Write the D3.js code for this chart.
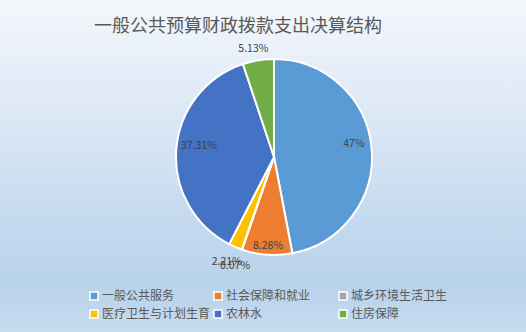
<!DOCTYPE html>
<meta charset="utf-8">
<style>
  body { margin: 0; }
  svg { display: block; font-family: "Noto Sans CJK SC", "Noto Sans", sans-serif; }
</style>
<body>
<svg id="chart"></svg>
<script src="https://d3js.org/d3.v7.min.js"></script>
<script>
  // data
  var categories = ["一般公共服务", "社会保障和就业", "城乡环境生活卫生", "医疗卫生与计划生育", "农林水", "住房保障"];
  var values = [47, 8.28, 0.07, 2.21, 37.31, 5.13];
  var labels = ["47%", "8.28%", "0.07%", "2.21%", "37.31%", "5.13%"];
  var colors = ["#5b9bd5", "#ed7d31", "#a5a5a5", "#ffc000", "#4472c4", "#70ad47"];

  var width = 526, height = 332;
  var cx = 274, cy = 157, radius = 98;

  var svg = d3.select("#chart").attr("width", width).attr("height", height);

  var grad = svg.append("defs").append("linearGradient")
      .attr("id", "bg").attr("x1", 0).attr("y1", 0).attr("x2", 0).attr("y2", 1);
  grad.append("stop").attr("offset", "0%").attr("stop-color", "#f4f7fc");
  grad.append("stop").attr("offset", "85%").attr("stop-color", "#b8d2eb");
  grad.append("stop").attr("offset", "100%").attr("stop-color", "#c6dbef");

  svg.append("rect").attr("width", width).attr("height", height).attr("fill", "url(#bg)");

  svg.append("text")
      .attr("x", 238).attr("y", 32)
      .attr("text-anchor", "middle")
      .attr("font-size", 18)
      .attr("fill", "#595959")
      .text("一般公共预算财政拨款支出决算结构");

  var pie = d3.pie().sort(null).value(function (d) { return d; });
  var arcs = pie(values);
  var arc = d3.arc().innerRadius(0).outerRadius(radius);

  var g = svg.append("g").attr("transform", "translate(" + cx + "," + cy + ")");

  g.selectAll("path")
      .data(arcs)
      .enter().append("path")
      .attr("d", arc)
      .attr("fill", function (d, i) { return colors[i]; })
      .attr("stroke", "#fff")
      .attr("stroke-width", 2);

  // label positions: inside for big slices, outside for the small ones
  var inner = d3.arc().innerRadius(radius * 0.85).outerRadius(radius * 0.85);
  var outer = d3.arc().innerRadius(radius * 1.12).outerRadius(radius * 1.12);
  var labelOffsets = [[-3, -6], [0, 5], [-3, 5], [-4, 3], [8, -5], [-3, 0]];

  g.selectAll("text.lbl")
      .data(arcs)
      .enter().append("text")
      .attr("class", "lbl")
      .attr("transform", function (d, i) {
        var p = (values[i] < 6 ? outer : inner).centroid(d);
        return "translate(" + (p[0] + labelOffsets[i][0]) + "," + (p[1] + labelOffsets[i][1]) + ")";
      })
      .attr("text-anchor", "middle")
      .attr("dy", "0.35em")
      .attr("font-size", 10.5)
      .attr("fill", "#404040")
      .text(function (d, i) { return labels[i]; });

  // legend
  var legendX = d3.scaleOrdinal().domain([0, 1, 2]).range([94, 218, 343]);
  var legendY = d3.scaleOrdinal().domain([0, 1]).range([296, 314]);

  var item = svg.selectAll("g.legend")
      .data(categories)
      .enter().append("g")
      .attr("class", "legend")
      .attr("transform", function (d, i) {
        return "translate(" + legendX(i % 3) + "," + legendY(Math.floor(i / 3)) + ")";
      });

  item.append("rect")
      .attr("x", -4).attr("y", -4).attr("width", 8).attr("height", 8)
      .attr("fill", function (d, i) { return colors[i]; })
      .attr("stroke", "#fff").attr("stroke-width", 1.5);

  item.append("text")
      .attr("x", 8).attr("dy", "0.35em")
      .attr("font-size", 12)
      .attr("fill", "#595959")
      .text(function (d) { return d; });
</script>
</body>
